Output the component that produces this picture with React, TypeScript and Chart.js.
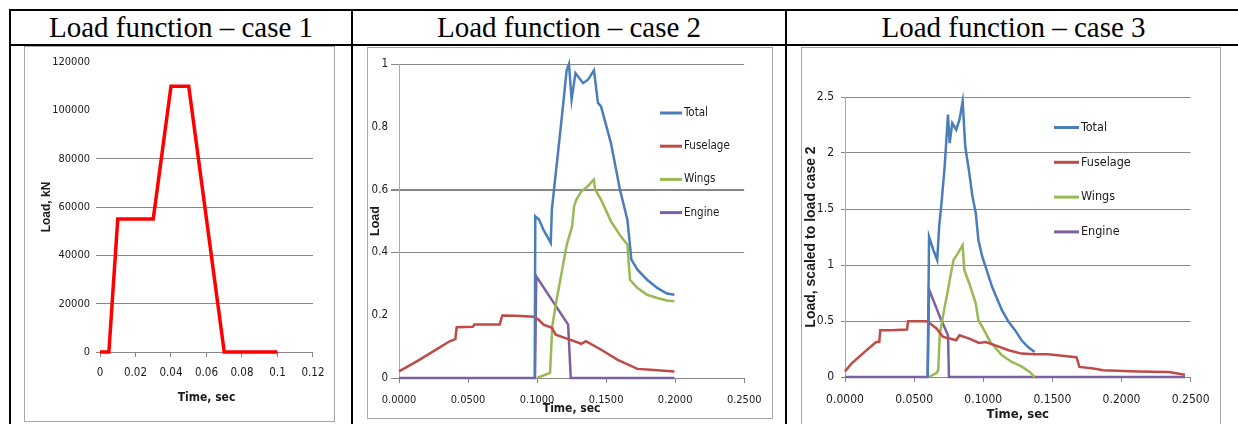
import React, { useEffect, useRef } from "react";
import { Chart, registerables } from "chart.js";

Chart.register(...registerables);

// ---------- DATA ----------
const headerTitles = ["Load function – case 1", "Load function – case 2", "Load function – case 3"];
const seriesNames = ["Total", "Fuselage", "Wings", "Engine"];

// Case 1 (time sec, load kN)
const case1Time = [0, 0.005, 0.01, 0.03, 0.04, 0.05, 0.07, 0.1];
const case1Load = [0, 0, 55000, 55000, 110000, 110000, 0, 0];

// Case 2 series [time, load]
const c2Total: number[][] = [
  [0.0983, 0], [0.0987, 0.515], [0.1015, 0.504], [0.1046, 0.472], [0.1099, 0.43], [0.1107, 0.536],
  [0.1154, 0.727], [0.119, 0.876], [0.1214, 0.98], [0.1231, 1.0], [0.125, 0.886], [0.1278, 0.971],
  [0.1333, 0.939], [0.1369, 0.95], [0.1412, 0.98], [0.1441, 0.876], [0.1463, 0.865], [0.1535, 0.748],
  [0.16, 0.6], [0.1654, 0.504], [0.1683, 0.377], [0.1727, 0.345], [0.1797, 0.313], [0.187, 0.287],
  [0.194, 0.269], [0.1995, 0.265],
];
const c2Fuselage: number[][] = [
  [0, 0.021], [0.0129, 0.053], [0.0248, 0.085], [0.0367, 0.117], [0.0408, 0.124], [0.0418, 0.162],
  [0.0535, 0.163], [0.0545, 0.17], [0.0729, 0.17], [0.0748, 0.199], [0.085, 0.198], [0.0975, 0.195],
  [0.101, 0.186], [0.1047, 0.17], [0.1107, 0.16], [0.1135, 0.138], [0.1226, 0.124], [0.1321, 0.109],
  [0.1353, 0.117], [0.1465, 0.09], [0.1584, 0.058], [0.1727, 0.029], [0.1822, 0.026], [0.1995, 0.021],
];
const c2Wings: number[][] = [
  [0.1, 0], [0.1094, 0.016], [0.111, 0.165], [0.1142, 0.25], [0.1177, 0.334], [0.1213, 0.42],
  [0.1225, 0.44], [0.1254, 0.483], [0.1268, 0.547], [0.1285, 0.568], [0.132, 0.594], [0.1366, 0.61],
  [0.1411, 0.632], [0.1421, 0.6], [0.1463, 0.568], [0.1535, 0.499], [0.1606, 0.451], [0.1654, 0.425],
  [0.1673, 0.313], [0.1725, 0.287], [0.1797, 0.265], [0.187, 0.255], [0.194, 0.247], [0.1995, 0.244],
];
const c2Engine: number[][] = [
  [0, 0], [0.0985, 0], [0.0994, 0.324], [0.1225, 0.17], [0.1244, 0], [0.1995, 0],
];

// Case 3 series [time, scaled load]
const c3Total: number[][] = [
  [0.0598, 0], [0.0608, 1.253], [0.0639, 1.134], [0.0667, 1.044], [0.0681, 1.342], [0.0698, 1.551],
  [0.0721, 1.88], [0.0745, 2.342], [0.0757, 2.088], [0.0776, 2.267], [0.0804, 2.208], [0.0828, 2.297],
  [0.0851, 2.461], [0.087, 2.058], [0.0899, 1.82], [0.0922, 1.611], [0.0946, 1.462], [0.0965, 1.223],
  [0.0993, 1.074], [0.1064, 0.805], [0.1135, 0.597], [0.1183, 0.492], [0.123, 0.418], [0.1277, 0.328],
  [0.1324, 0.268], [0.1372, 0.224],
];
const c3Fuselage: number[][] = [
  [0, 0.05], [0.0047, 0.12], [0.0142, 0.224], [0.0225, 0.313], [0.0248, 0.313], [0.0255, 0.418],
  [0.0331, 0.418], [0.0449, 0.424], [0.0456, 0.498], [0.0591, 0.498], [0.0615, 0.477], [0.0662, 0.433],
  [0.071, 0.358], [0.0757, 0.343], [0.0804, 0.328], [0.0828, 0.373], [0.0899, 0.343], [0.097, 0.304],
  [0.1017, 0.313], [0.1088, 0.283], [0.1183, 0.239], [0.1277, 0.209], [0.1372, 0.203], [0.1466, 0.203],
  [0.1537, 0.194], [0.1655, 0.179], [0.1675, 0.176], [0.1696, 0.09], [0.1797, 0.075], [0.1868, 0.06],
  [0.2117, 0.05], [0.2341, 0.045], [0.2459, 0.021],
];
const c3Wings: number[][] = [
  [0.0608, 0], [0.0662, 0.036], [0.0674, 0.06], [0.0686, 0.388], [0.0721, 0.626], [0.0745, 0.776],
  [0.0764, 0.91], [0.0785, 1.044], [0.0816, 1.104], [0.0851, 1.178], [0.0863, 0.955], [0.0899, 0.835],
  [0.0946, 0.656], [0.0965, 0.507], [0.0993, 0.447], [0.1052, 0.313], [0.1135, 0.194], [0.1206, 0.134],
  [0.1277, 0.095], [0.1336, 0.045], [0.1372, 0],
];
const c3Engine: number[][] = [
  [0, 0], [0.0598, 0], [0.0608, 0.782], [0.0639, 0.686], [0.0686, 0.537], [0.0745, 0.373], [0.0752, 0], [0.2459, 0],
];

// ---------- STYLE ----------
const NARROW = '"Liberation Sans Narrow", "DejaVu Sans Condensed", "Arial Narrow", sans-serif';
const SANS = '"Liberation Sans", Arial, sans-serif';
const SERIF = '"Liberation Serif", "Times New Roman", serif';
const COLORS = ["#4A7EBB", "#BE4B48", "#98B954", "#7D60A0"];
const GRID = "#878787";
const TEXT = "#1a1a1a";

const toXY = (arr: number[][]) => arr.map(([x, y]) => ({ x, y }));

const inlineLegend = {
  id: "inlineLegend",
  afterDraw(chart: any, _args: any, opts: any) {
    if (!opts || !opts.show) return;
    const ctx = chart.ctx;
    ctx.save();
    chart.data.datasets.forEach((ds: any, i: number) => {
      const y = opts.y + i * opts.dy;
      ctx.strokeStyle = ds.borderColor;
      ctx.lineWidth = 3;
      ctx.beginPath();
      ctx.moveTo(opts.x, y);
      ctx.lineTo(opts.x + opts.len, y);
      ctx.stroke();
      ctx.fillStyle = TEXT;
      ctx.font = `${opts.size}px ${NARROW}`;
      ctx.textBaseline = "middle";
      ctx.textAlign = "left";
      ctx.fillText(ds.label, opts.x + opts.len + 2, y);
    });
    ctx.restore();
  },
};

function multiDatasets(series: number[][][]) {
  return series.map((s, i) => ({
    label: seriesNames[i],
    data: toXY(s),
    borderColor: COLORS[i],
    backgroundColor: COLORS[i],
    borderWidth: 2.5,
    pointRadius: 0,
    tension: 0,
    clip: false as any,
  }));
}

function config1(): any {
  return {
    type: "line",
    data: {
      datasets: [
        {
          label: "Load",
          data: case1Time.map((t, i) => ({ x: t, y: case1Load[i] })),
          borderColor: "#FF0000",
          borderWidth: 3.5,
          pointRadius: 0,
          tension: 0,
          clip: false,
        },
      ],
    },
    options: {
      animation: false,
      responsive: false,
      layout: { padding: { left: 0, top: 15, right: 21, bottom: 0 } },
      plugins: { legend: { display: false }, tooltip: { enabled: false } },
      scales: {
        x: {
          type: "linear",
          min: 0,
          max: 0.12,
          afterFit: (s: any) => { s.height = 69; },
          ticks: {
            stepSize: 0.02,
            color: TEXT,
            padding: 9.5,
            maxRotation: 0,
            font: { family: NARROW, size: 11.5 },
            callback: (v: number) => String(Number(v.toFixed(2))),
          },
          grid: { drawOnChartArea: false, drawTicks: true, tickLength: 5, color: GRID },
          border: { display: true, color: GRID },
          title: {
            display: true,
            text: "Time, sec",
            color: TEXT,
            font: { family: NARROW, size: 12, weight: "bold" },
            padding: { top: 0, bottom: 16 },
          },
        },
        y: {
          type: "linear",
          min: 0,
          max: 120000,
          afterFit: (s: any) => { s.width = 75; },
          ticks: {
            stepSize: 20000,
            color: TEXT,
            padding: 6,
            font: { family: NARROW, size: 11 },
            callback: (v: number) => String(v),
          },
          grid: {
            color: (c: any) => (c.tick && c.tick.value > 80000 ? "rgba(0,0,0,0)" : GRID),
            tickLength: 4,
          },
          border: { display: false },
          title: {
            display: true,
            text: "Load, kN",
            color: TEXT,
            font: { family: SANS, size: 12, weight: "bold" },
            padding: { top: 14, bottom: 0 },
          },
        },
      },
    },
  };
}

function config2(): any {
  const shown = [1, 0.6, 0.4, 0];
  return {
    type: "line",
    data: { datasets: multiDatasets([c2Total, c2Fuselage, c2Wings, c2Engine]) },
    plugins: [inlineLegend],
    options: {
      animation: false,
      responsive: false,
      layout: { padding: { left: 0, top: 16, right: 24, bottom: 0 } },
      plugins: {
        legend: { display: false },
        tooltip: { enabled: false },
        inlineLegend: { show: true, x: 292, y: 65, dy: 33.2, len: 22, size: 11.5 },
      },
      scales: {
        x: {
          type: "linear",
          min: 0,
          max: 0.25,
          afterFit: (s: any) => { s.height = 40; },
          ticks: {
            stepSize: 0.05,
            color: TEXT,
            padding: 10.5,
            maxRotation: 0,
            font: { family: NARROW, size: 11 },
            callback: (v: number) => v.toFixed(4),
          },
          grid: { drawOnChartArea: false, drawTicks: true, tickLength: 5, color: GRID },
          border: { display: true, color: GRID },
          title: {
            display: true,
            text: "Time, sec",
            color: TEXT,
            font: { family: NARROW, size: 12, weight: "bold" },
            padding: { top: 0, bottom: 2 },
          },
        },
        y: {
          type: "linear",
          min: 0,
          max: 1,
          afterFit: (s: any) => { s.width = 31; },
          ticks: {
            stepSize: 0.2,
            color: TEXT,
            padding: 3,
            font: { family: NARROW, size: 11.5 },
            callback: (v: number) => String(Math.round(v * 10) / 10),
          },
          grid: {
            color: (c: any) =>
              c.tick && shown.some((s) => Math.abs(s - c.tick.value) < 1e-6) ? GRID : "rgba(0,0,0,0)",
            lineWidth: (c: any) => (c.tick && Math.abs(c.tick.value - 0.6) < 1e-6 ? 2 : 1),
            tickLength: 8,
          },
          border: { display: true, color: "#a8a8a8" },
          title: {
            display: true,
            text: "Load",
            color: TEXT,
            font: { family: SANS, size: 12.5, weight: "bold" },
            padding: { top: 0, bottom: 0 },
          },
        },
      },
    },
  };
}

function config3(): any {
  return {
    type: "line",
    data: { datasets: multiDatasets([c3Total, c3Fuselage, c3Wings, c3Engine]) },
    plugins: [inlineLegend],
    options: {
      animation: false,
      responsive: false,
      layout: { padding: { left: 0, top: 49, right: 23, bottom: 0 } },
      plugins: {
        legend: { display: false },
        tooltip: { enabled: false },
        inlineLegend: { show: true, x: 252, y: 79.5, dy: 34.8, len: 25, size: 12.5 },
      },
      scales: {
        x: {
          type: "linear",
          min: 0,
          max: 0.25,
          afterFit: (s: any) => { s.height = 47; },
          ticks: {
            stepSize: 0.05,
            color: TEXT,
            padding: 10.5,
            maxRotation: 0,
            font: { family: NARROW, size: 12 },
            callback: (v: number) => v.toFixed(4),
          },
          grid: { drawOnChartArea: false, drawTicks: true, tickLength: 5, color: GRID },
          border: { display: true, color: GRID },
          title: {
            display: true,
            text: "Time, sec",
            color: TEXT,
            font: { family: NARROW, size: 13, weight: "bold" },
            padding: { top: 0, bottom: 1.5 },
          },
        },
        y: {
          type: "linear",
          min: 0,
          max: 2.5,
          afterFit: (s: any) => { s.width = 43; },
          ticks: {
            stepSize: 0.5,
            color: TEXT,
            padding: 7,
            font: { family: NARROW, size: 12 },
            callback: (v: number) => String(Math.round(v * 10) / 10),
          },
          grid: { color: GRID, tickLength: 4 },
          border: { display: true, color: "#a8a8a8" },
          title: {
            display: true,
            text: "Load, scaled to load case 2",
            color: TEXT,
            font: { family: SANS, size: 14, weight: "bold" },
            padding: { top: 1, bottom: 0 },
          },
        },
      },
    },
  };
}

const abs = (l: number, t: number, w: number, h: number, extra: any = {}): React.CSSProperties => ({
  position: "absolute",
  left: l,
  top: t,
  width: w,
  height: h,
  ...extra,
});

export default function App() {
  const r1 = useRef<HTMLCanvasElement>(null);
  const r2 = useRef<HTMLCanvasElement>(null);
  const r3 = useRef<HTMLCanvasElement>(null);

  useEffect(() => {
    const charts = [
      new Chart(r1.current as HTMLCanvasElement, config1()),
      new Chart(r2.current as HTMLCanvasElement, config2()),
      new Chart(r3.current as HTMLCanvasElement, config3()),
    ];
    return () => charts.forEach((c) => c.destroy());
  }, []);

  const headerStyle = (l: number, w: number): React.CSSProperties =>
    abs(l, 10, w, 34, {
      fontFamily: SERIF,
      fontSize: 29,
      lineHeight: "34px",
      textAlign: "center",
      color: "#000",
      whiteSpace: "nowrap",
    });

  return (
    <div style={abs(0, 0, 1238, 424, { overflow: "hidden", background: "#fff" })}>
      {/* table lines */}
      <div style={abs(9, 9, 1240, 2, { background: "#000" })} />
      <div style={abs(9, 44, 1240, 2, { background: "#000" })} />
      <div style={abs(9, 9, 2, 420, { background: "#000" })} />
      <div style={abs(351, 9, 2, 420, { background: "#000" })} />
      <div style={abs(785, 9, 2, 420, { background: "#000" })} />
      <div style={abs(1238, 9, 2, 420, { background: "#000" })} />

      {/* headers */}
      <div style={headerStyle(11, 340)}>{headerTitles[0]}</div>
      <div style={headerStyle(353, 432)}>{headerTitles[1]}</div>
      <div style={headerStyle(787, 453)}>{headerTitles[2]}</div>

      {/* chart frames */}
      <div style={abs(24, 46, 309, 374, { border: "1px solid #a6a6a6" })} />
      <div style={abs(367, 47, 404, 370, { border: "1px solid #a6a6a6" })} />
      <div style={abs(801, 47, 418, 390, { border: "1.5px solid #a6a6a6" })} />

      <canvas ref={r1} width={309} height={374} style={abs(25, 47, 309, 374)} />
      <canvas ref={r2} width={404} height={370} style={abs(368, 48, 404, 370)} />
      <canvas ref={r3} width={418} height={376} style={abs(802, 48, 418, 376)} />
    </div>
  );
}
